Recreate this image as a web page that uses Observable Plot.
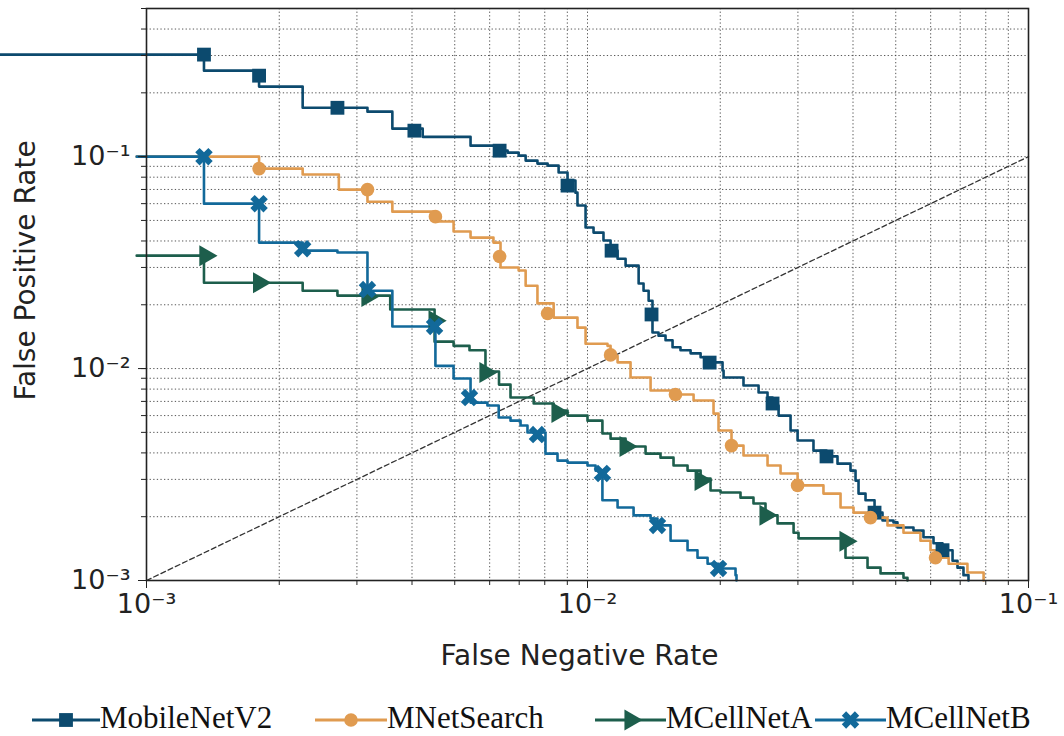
<!DOCTYPE html>
<html>
<head>
<meta charset="utf-8">
<script src="https://cdn.jsdelivr.net/npm/d3@7"></script>
<script src="https://cdn.jsdelivr.net/npm/@observablehq/plot@0.6"></script>
<style>
  body { margin: 0; background: #fff; overflow: hidden; }
  #legend { position: relative; width: 1064px; height: 56px; font-family: "Liberation Serif", serif; font-size: 31px; color: #111; }
  .item { position: absolute; top: 20px; height: 36px; display: flex; align-items: center; }
  .item span { line-height: 36px; }
</style>
</head>
<body>
<div id="chart"></div>
<div id="legend"></div>
<script>
// ---- tick values and labels ----
const xTicks = [1e-3, 1e-2, 1e-1];
const xTickLabels = ["10\u207B\u00B3", "10\u207B\u00B2", "10\u207B\u00B9"];
const yTicks = [1e-3, 1e-2, 1e-1];
const yTickLabels = ["10\u207B\u00B3", "10\u207B\u00B2", "10\u207B\u00B9"];
const xDomain = [1e-3, 1e-1];
const yDomain = [1e-3, 0.5];

// ---- series names / colours ----
const seriesNames = ["MobileNetV2", "MNetSearch", "MCellNetA", "MCellNetB"];
const seriesColors = ["#0c4a6e", "#e09b50", "#1d5e4c", "#12699a"];

// ---- curves: [false negative rate, false positive rate] (step-after) ----
const mobileNetV2Curve = [
  [0.0004,0.303],[0.00135,0.2545],[0.0018,0.214],[0.00226,0.170],[0.00317,0.163],[0.00361,0.1355],
  [0.00423,0.124],[0.00543,0.1127],[0.00635,0.1067],[0.00659,0.1044],[0.00698,0.1011],[0.00724,0.0958],
  [0.0077,0.0927],[0.00812,0.0907],[0.0086,0.0841],[0.00901,0.0771],[0.00939,0.0676],[0.00949,0.0588],
  [0.0099,0.0463],[0.01032,0.0438],[0.01087,0.0402],[0.01128,0.036],[0.0117,0.033],[0.0122,0.0306],
  [0.01306,0.0252],[0.0134,0.0233],[0.01376,0.0209],[0.01404,0.0148],[0.01449,0.0143],[0.01503,0.0136],
  [0.01559,0.0126],[0.01625,0.0122],[0.01713,0.0118],[0.01805,0.0113],[0.01901,0.0107],[0.02024,0.00979],
  [0.02035,0.00907],[0.02258,0.00832],[0.02443,0.00771],[0.0256,0.0073],[0.02628,0.00669],[0.02712,0.006],
  [0.02887,0.0051],[0.02995,0.00458],[0.03254,0.0041],[0.03483,0.00385],[0.03689,0.00356],[0.03948,0.0033],
  [0.04053,0.00296],[0.04117,0.00257],[0.0427,0.00239],[0.04476,0.00209],[0.04666,0.00192],[0.04941,0.00188],
  [0.05045,0.00178],[0.05485,0.00172],[0.05779,0.0016],[0.0609,0.0015],[0.06383,0.00139],[0.06726,0.00124],
  [0.06902,0.00115],[0.07121,0.00106],[0.0731,0.001]
];
const mNetSearchCurve = [
  [0.00095,0.1],[0.0018,0.0878],[0.00226,0.0823],[0.00273,0.0699],[0.00317,0.0613],[0.00361,0.055],
  [0.00452,0.0494],[0.00497,0.0443],[0.00543,0.0415],[0.00612,0.0393],[0.00635,0.03],[0.00698,0.029],
  [0.00724,0.0246],[0.0077,0.0203],[0.00838,0.0174],[0.00949,0.0156],[0.0099,0.0131],[0.0111,0.0128],
  [0.01128,0.0115],[0.0117,0.0107],[0.01252,0.00907],[0.0139,0.00788],[0.01583,0.00754],[0.0174,0.00707],
  [0.01931,0.00613],[0.01982,0.0051],[0.02121,0.00433],[0.02258,0.00389],[0.0256,0.00349],[0.0274,0.0032],
  [0.02995,0.00281],[0.03428,0.00257],[0.03748,0.00221],[0.04011,0.00209],[0.04383,0.00198],[0.04789,0.00182],
  [0.05206,0.00168],[0.05689,0.00154],[0.05995,0.00139],[0.06153,0.00128],[0.0659,0.0012],[0.0727,0.00109],
  [0.0791,0.001]
];
const mCellNetACurve = [
  [0.00095,0.0341],[0.00135,0.0254],[0.00226,0.0233],[0.00271,0.0221],[0.00357,0.019],[0.0045,0.0134],
  [0.00497,0.0128],[0.0054,0.0122],[0.00587,0.00968],[0.0063,0.0084],[0.00669,0.0073],[0.00755,0.00684],
  [0.00838,0.00634],[0.00901,0.006],[0.01,0.00568],[0.01081,0.00494],[0.01128,0.00467],[0.0122,0.00429],
  [0.01354,0.00397],[0.01464,0.0038],[0.01567,0.00349],[0.01686,0.0033],[0.01805,0.00303],[0.01901,0.00266],
  [0.02003,0.0026],[0.02223,0.00246],[0.02379,0.00231],[0.02533,0.00203],[0.02697,0.00186],[0.02933,0.00168],
  [0.0301,0.00158],[0.03846,0.00128],[0.04315,0.00115],[0.04618,0.00108],[0.05206,0.00103],[0.05316,0.001]
];
const mCellNetBCurve = [
  [0.00095,0.1],[0.00135,0.06],[0.0018,0.0393],[0.00226,0.036],[0.00271,0.0353],[0.00317,0.0233],
  [0.00361,0.0158],[0.00452,0.0103],[0.00497,0.00897],[0.00543,0.00691],[0.00593,0.00669],[0.00629,0.00588],
  [0.00669,0.00568],[0.00705,0.00539],[0.00731,0.00499],[0.00803,0.00397],[0.00855,0.00368],[0.00901,0.0036],
  [0.01,0.00349],[0.01043,0.0033],[0.01081,0.00239],[0.0117,0.00221],[0.01272,0.00203],[0.0139,0.00196],
  [0.01441,0.00182],[0.01543,0.00154],[0.01686,0.00139],[0.01776,0.00128],[0.01872,0.0012],[0.01982,0.00114],
  [0.02166,0.00106],[0.02177,0.001]
];

// ---- marker positions ----
const mobileNetV2Markers = [
  [0.00135,0.303],[0.0018,0.241],[0.00271,0.170],[0.00405,0.1326],[0.00632,0.1067],[0.00901,0.073],
  [0.01134,0.036],[0.01397,0.018],[0.01892,0.01067],[0.02628,0.00684],[0.03483,0.00385],[0.04476,0.00209],
  [0.06383,0.00139]
];
const mNetSearchMarkers = [
  [0.0018,0.0878],[0.00317,0.0699],[0.00452,0.0521],[0.00632,0.0338],[0.00812,0.0182],[0.01128,0.0116],
  [0.01583,0.00754],[0.02121,0.00433],[0.02995,0.00281],[0.04383,0.00198],[0.06153,0.00128]
];
const mCellNetAMarkers = [
  [0.00136,0.0341],[0.0018,0.0254],[0.00317,0.0219],[0.0045,0.0168],[0.00587,0.00958],[0.00855,0.0062],
  [0.0122,0.00429],[0.01805,0.00296],[0.02533,0.00203],[0.03846,0.00153]
];
const mCellNetBMarkers = [
  [0.00135,0.1],[0.0018,0.06],[0.00226,0.0368],[0.00317,0.0236],[0.0045,0.0158],[0.0054,0.0073],
  [0.0077,0.00488],[0.01081,0.0032],[0.01441,0.00182],[0.01982,0.00114]
];

// chance diagonal
const diagonal = [[0.001, 0.001], [0.1, 0.1]];

const curves = [mobileNetV2Curve, mNetSearchCurve, mCellNetACurve, mCellNetBCurve];
const markers = [mobileNetV2Markers, mNetSearchMarkers, mCellNetAMarkers, mCellNetBMarkers];
const symbols = ["square", "circle", "triangle", "cross"];
const rotations = [0, 0, 90, 45];
const radii = [7.8, 6.8, 7.8, 7.8];

const xGrid = d3.scaleLog().domain(xDomain).ticks();
const yGrid = d3.scaleLog().domain(yDomain).ticks();

const fx = d => d[0], fy = d => d[1];

const marks = [
  Plot.gridX(xGrid, {stroke: "#444", strokeOpacity: 0.9, strokeWidth: 1, strokeDasharray: "1.3,2.3"}),
  Plot.gridY(yGrid, {stroke: "#444", strokeOpacity: 0.9, strokeWidth: 1, strokeDasharray: "1.3,2.3"}),
  Plot.line(diagonal, {x: fx, y: fy, stroke: "#333", strokeWidth: 1.3, strokeDasharray: "5,3"})
];
curves.forEach((c, i) => {
  marks.push(Plot.line(c, {x: fx, y: fy, curve: "step-after", stroke: seriesColors[i], strokeWidth: 2.6}));
});
markers.forEach((m, i) => {
  marks.push(Plot.dot(m, {x: fx, y: fy, symbol: symbols[i], r: radii[i], rotate: rotations[i], fill: seriesColors[i], stroke: "none"}));
});
marks.push(
  Plot.frame({stroke: "#222", strokeWidth: 1.6}),
  Plot.axisX(xGrid, {anchor: "bottom", tickSize: 5, tickFormat: () => "", label: null, stroke: "#222"}),
  Plot.axisX(xTicks, {anchor: "bottom", tickSize: 8, tickPadding: 5, label: null, stroke: "#222",
    tickFormat: d => xTickLabels[xTicks.indexOf(d)], fontSize: 27, fill: "#222"}),
  Plot.axisY(yGrid, {anchor: "left", tickSize: 5, tickFormat: () => "", label: null, stroke: "#222"}),
  Plot.axisY(yTicks, {anchor: "left", tickSize: 8, tickPadding: 8, label: null, stroke: "#222",
    tickFormat: d => yTickLabels[yTicks.indexOf(d)], fontSize: 27, fill: "#222"}),
  Plot.text(["False Negative Rate"], {frameAnchor: "bottom", dy: 84, dx: -8, text: d => d, fontSize: 28, fill: "#222"}),
  Plot.text(["False Positive Rate"], {frameAnchor: "left", textAnchor: "middle", lineAnchor: "middle", dx: -120, dy: -24, rotate: -90, text: d => d, fontSize: 28, fill: "#222"})
);

const chart = Plot.plot({
  width: 1064,
  height: 680,
  marginLeft: 146,
  marginRight: 36,
  marginTop: 8,
  marginBottom: 100,
  style: {fontFamily: "DejaVu Sans", background: "#fff", overflow: "hidden"},
  x: {type: "log", domain: xDomain},
  y: {type: "log", domain: yDomain},
  marks
});
document.getElementById("chart").appendChild(chart);

// ---- legend ----
const legendPos = [[32, 100], [315, 387], [595, 666], [815, 886]];
const symbolTypes = [d3.symbolSquare, d3.symbolCircle, d3.symbolTriangle, d3.symbolCross];
const legend = d3.select("#legend");
seriesNames.forEach((name, i) => {
  const [x0, x1] = legendPos[i];
  const w = x1 - x0;
  const item = legend.append("div").attr("class", "item").style("left", x0 + "px");
  const svg = item.append("svg").attr("width", w).attr("height", 36);
  svg.append("line").attr("x1", 0).attr("x2", w).attr("y1", 20).attr("y2", 20)
    .attr("stroke", seriesColors[i]).attr("stroke-width", 3);
  svg.append("path")
    .attr("d", d3.symbol().type(symbolTypes[i]).size(Math.PI * radii[i] * radii[i])())
    .attr("transform", `translate(${w / 2},20) rotate(${rotations[i]})`)
    .attr("fill", seriesColors[i]);
  item.append("span").text(name);
});
</script>
</body>
</html>
